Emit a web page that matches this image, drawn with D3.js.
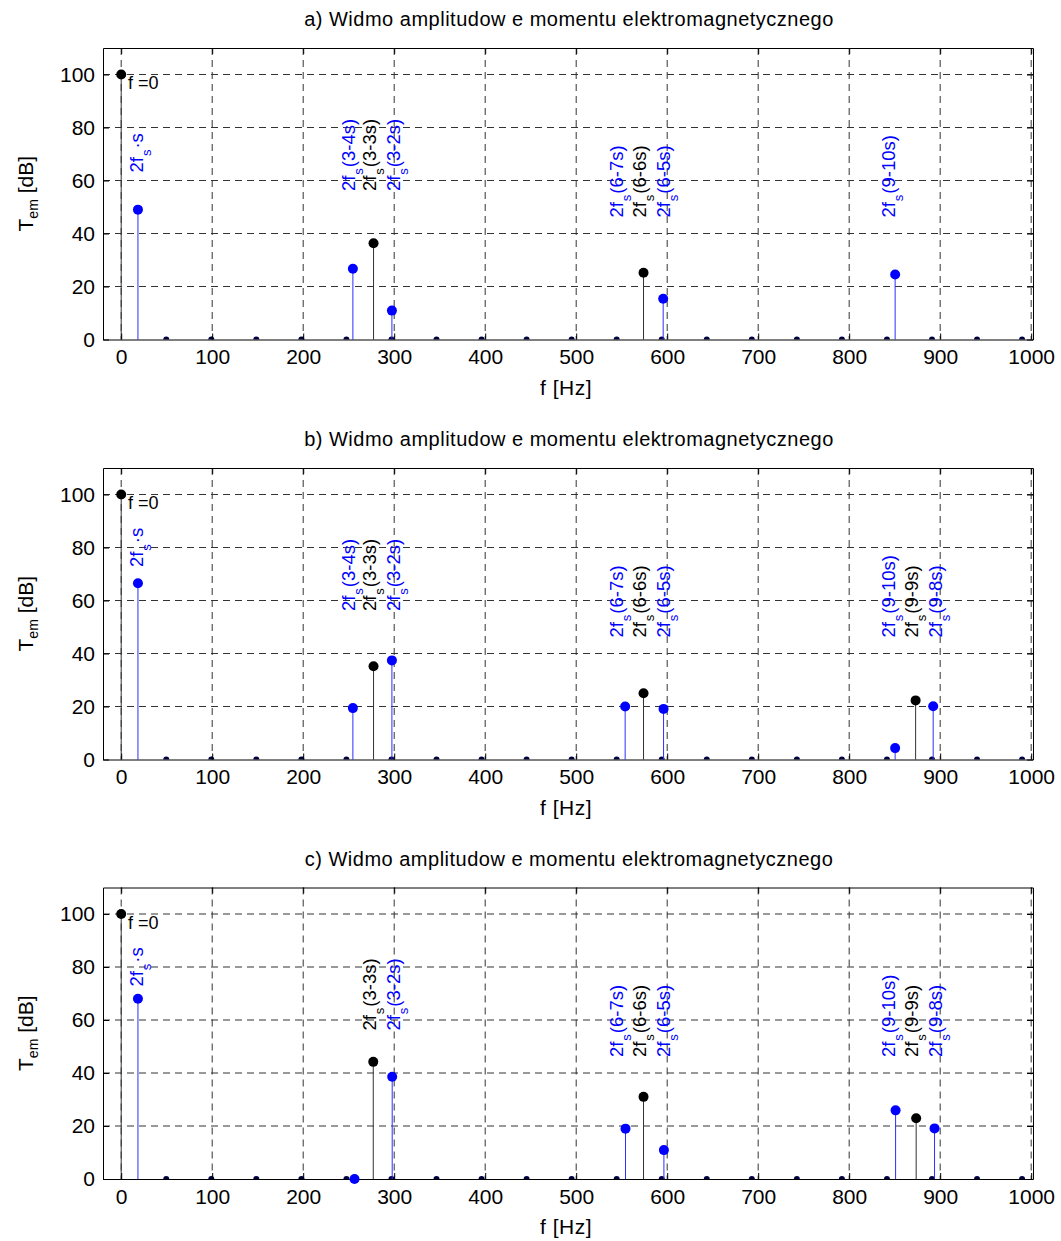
<!DOCTYPE html>
<html lang="pl">
<head>
<meta charset="UTF-8">
<title>Widmo amplitudowe</title>
<script src="https://cdn.jsdelivr.net/npm/d3@7"></script>
<style>
  body { margin: 0; background: #fff; }
  text { font-family: "Liberation Sans", Arial, sans-serif; }
</style>
</head>
<body>
<div id="chart"></div>
<script>

// panel titles
var titles = [
    "a) Widmo amplitudow e momentu elektromagnetycznego",
    "b) Widmo amplitudow e momentu elektromagnetycznego",
    "c) Widmo amplitudow e momentu elektromagnetycznego"
];

// stems: frequency [Hz], amplitude [dB], colour key
var freqA = [0, 18.4, 254.6, 277.3, 297.5, 574, 595.6, 850.5];
var ampA  = [100, 49, 26.7, 36.3, 10.9, 25.2, 15.4, 24.5];
var colA  = ["k", "b", "b", "k", "b", "k", "b", "b"];

var freqB = [0, 18.4, 254.6, 277.3, 297.5, 553.8, 574, 596, 850.5, 873, 892.3];
var ampB  = [100, 66.5, 19.4, 35.2, 37.4, 20, 25, 19.1, 4.3, 22.3, 20.1];
var colB  = ["k", "b", "b", "k", "b", "b", "k", "b", "b", "k", "b"];

var freqC = [0, 18.4, 256.4, 277, 297.8, 554.2, 574, 596.4, 851, 873.6, 893.8];
var ampC  = [100, 68, 0, 44.2, 38.6, 19, 31, 10.9, 25.9, 22.9, 19.1];
var colC  = ["k", "b", "b", "k", "b", "b", "k", "b", "b", "k", "b"];

// components with (almost) zero amplitude, shown as small markers on the axis
var zeroFreq = [49.5, 99, 148.5, 198, 247.5, 297, 346.5, 396, 445.5, 495,
                544.5, 594, 643.5, 693, 742.5, 792, 841.5, 891, 940.5, 990];

// annotations: [main, subscript, rest, colour, x Hz, y dB]
var labA = [
    ["2f", "s", "\u00b7s", "b", 24.5, 63],
    ["2f", "s", "(3-4s)", "b", 257, 56], ["2f", "s", "(3-3s)", "k", 280, 56], ["2f", "s", "(3-2s)", "b", 306.5, 56],
    ["2f", "s", "(6-7s)", "b", 551.5, 46], ["2f", "s", "(6-6s)", "k", 577, 46], ["2f", "s", "(6-5s)", "b", 603, 46],
    ["2f", "s", "(9-10s)", "b", 850, 46]
];
var labB = [
    ["2f", "s", "\u00b7s", "b", 24.5, 72.6],
    ["2f", "s", "(3-4s)", "b", 257, 56], ["2f", "s", "(3-3s)", "k", 280, 56], ["2f", "s", "(3-2s)", "b", 306.5, 56],
    ["2f", "s", "(6-7s)", "b", 551.5, 46], ["2f", "s", "(6-6s)", "k", 577, 46], ["2f", "s", "(6-5s)", "b", 603, 46],
    ["2f", "s", "(9-10s)", "b", 850, 46], ["2f", "s", "(9-9s)", "k", 875.5, 46], ["2f", "s", "(9-8s)", "b", 902.5, 46]
];
var labC = [
    ["2f", "s", "\u00b7s", "b", 24.5, 72.6],
    ["2f", "s", "(3-3s)", "k", 280, 56], ["2f", "s", "(3-2s)", "b", 306.5, 56],
    ["2f", "s", "(6-7s)", "b", 551.5, 46], ["2f", "s", "(6-6s)", "k", 577, 46], ["2f", "s", "(6-5s)", "b", 603, 46],
    ["2f", "s", "(9-10s)", "b", 850, 46], ["2f", "s", "(9-9s)", "k", 875.5, 46], ["2f", "s", "(9-8s)", "b", 902.5, 46]
];

var xTicks = [0, 100, 200, 300, 400, 500, 600, 700, 800, 900, 1000];
var yTicks = [0, 20, 40, 60, 80, 100];

var panels = [
    { title: titles[0], f: freqA, a: ampA, c: colA, lab: labA },
    { title: titles[1], f: freqB, a: ampB, c: colB, lab: labB },
    { title: titles[2], f: freqC, a: ampC, c: colC, lab: labC }
];

var width = 1061, height = 1241;
var left = 103, plotW = 930, plotH = 291.5;
var tops = [48, 468, 887.5];

var stemCol = { k: "#333333", b: "#2f2fff" };
var dotCol  = { k: "#000000", b: "#0000ff" };
var txtCol  = { k: "#000000", b: "#0000ff" };

var svg = d3.select("#chart").append("svg")
    .attr("width", width)
    .attr("height", height);

var x = d3.scaleLinear().domain([-20, 1002]).range([left, left + plotW]);

function styleAxis(a) {
    a.selectAll("text").attr("font-size", 21).attr("fill", "#000")
        .style("font-family", "'Liberation Sans', Arial, sans-serif");
    a.selectAll("line, path").attr("stroke", "#000");
}

panels.forEach(function(p, i) {
    var top = tops[i];
    var y = d3.scaleLinear().domain([0, 110]).range([top + plotH, top]);
    var g = svg.append("g");

    var clipId = "clip" + i;
    g.append("clipPath").attr("id", clipId)
        .append("rect")
        .attr("x", left).attr("y", top)
        .attr("width", plotW).attr("height", plotH);

    // grid
    g.append("g").selectAll("line")
        .data(xTicks).enter().append("line")
        .attr("x1", function(d) { return x(d); })
        .attr("x2", function(d) { return x(d); })
        .attr("y1", top).attr("y2", top + plotH)
        .attr("stroke", "#333").attr("stroke-width", 1)
        .attr("stroke-dasharray", "7,5");
    g.append("g").selectAll("line")
        .data(yTicks.slice(1)).enter().append("line")
        .attr("x1", left).attr("x2", left + plotW)
        .attr("y1", function(d) { return y(d); })
        .attr("y2", function(d) { return y(d); })
        .attr("stroke", "#333").attr("stroke-width", 1)
        .attr("stroke-dasharray", "7,5");

    // zero-level markers
    g.append("g").attr("clip-path", "url(#" + clipId + ")")
        .selectAll("circle")
        .data(zeroFreq).enter().append("circle")
        .attr("cx", function(d) { return x(d); })
        .attr("cy", y(0))
        .attr("r", 3)
        .attr("fill", "#000040");

    // stems
    var idx = d3.range(p.f.length);
    g.append("g").selectAll("line")
        .data(idx).enter().append("line")
        .attr("x1", function(k) { return x(p.f[k]); })
        .attr("x2", function(k) { return x(p.f[k]); })
        .attr("y1", y(0))
        .attr("y2", function(k) { return y(p.a[k]); })
        .attr("stroke", function(k) { return stemCol[p.c[k]]; })
        .attr("stroke-width", 1);

    // axes (ticks inside, box)
    g.append("g")
        .attr("transform", "translate(0," + (top + plotH) + ")")
        .call(d3.axisBottom(x).tickValues(xTicks).tickFormat(d3.format("d"))
            .tickSizeInner(-6).tickSizeOuter(0).tickPadding(10))
        .call(styleAxis);
    g.append("g")
        .attr("transform", "translate(" + left + ",0)")
        .call(d3.axisLeft(y).tickValues(yTicks).tickFormat(d3.format("d"))
            .tickSizeInner(-6).tickSizeOuter(0).tickPadding(8))
        .call(styleAxis);
    g.append("g")
        .attr("transform", "translate(0," + top + ")")
        .call(d3.axisTop(x).tickValues(xTicks).tickSizeInner(-6).tickSizeOuter(0).tickFormat(""))
        .call(styleAxis);
    g.append("g")
        .attr("transform", "translate(" + (left + plotW) + ",0)")
        .call(d3.axisRight(y).tickValues(yTicks).tickSizeInner(-6).tickSizeOuter(0).tickFormat(""))
        .call(styleAxis);

    // stem heads
    g.append("g").selectAll("circle")
        .data(idx).enter().append("circle")
        .attr("cx", function(k) { return x(p.f[k]); })
        .attr("cy", function(k) { return y(p.a[k]); })
        .attr("r", 5)
        .attr("fill", function(k) { return dotCol[p.c[k]]; });

    // f=0 label
    g.append("text")
        .attr("x", x(7.4)).attr("y", y(94.4))
        .attr("font-size", 18).attr("fill", "#000")
        .text("f =0");

    // rotated annotations
    p.lab.forEach(function(l) {
        var t = g.append("text")
            .attr("transform", "translate(" + x(l[4]) + "," + y(l[5]) + ") rotate(-90)")
            .attr("font-size", 18.5)
            .attr("fill", txtCol[l[3]]);
        t.append("tspan").text(l[0]);
        t.append("tspan").attr("font-size", 13).attr("dy", 8).attr("dx", 1).text(l[1]);
        t.append("tspan").attr("dy", -8).attr("dx", 1).text(l[2]);
    });

    // title and axis labels
    g.append("text")
        .attr("x", left + plotW / 2 + 1).attr("y", top - 22)
        .attr("text-anchor", "middle")
        .attr("font-size", 20)
        .attr("letter-spacing", 0.5)
        .text(p.title);
    g.append("text")
        .attr("x", left + plotW / 2 - 2).attr("y", top + plotH + 55)
        .attr("text-anchor", "middle")
        .attr("font-size", 21)
        .attr("letter-spacing", 0.5)
        .text("f [Hz]");
    var yl = g.append("text")
        .attr("transform", "translate(33," + (top + plotH / 2) + ") rotate(-90)")
        .attr("text-anchor", "middle")
        .attr("font-size", 21);
    yl.append("tspan").text("T");
    yl.append("tspan").attr("font-size", 14).attr("dy", 5).text("em");
    yl.append("tspan").attr("dy", -5).text(" [dB]");
});

</script>
</body>
</html>
